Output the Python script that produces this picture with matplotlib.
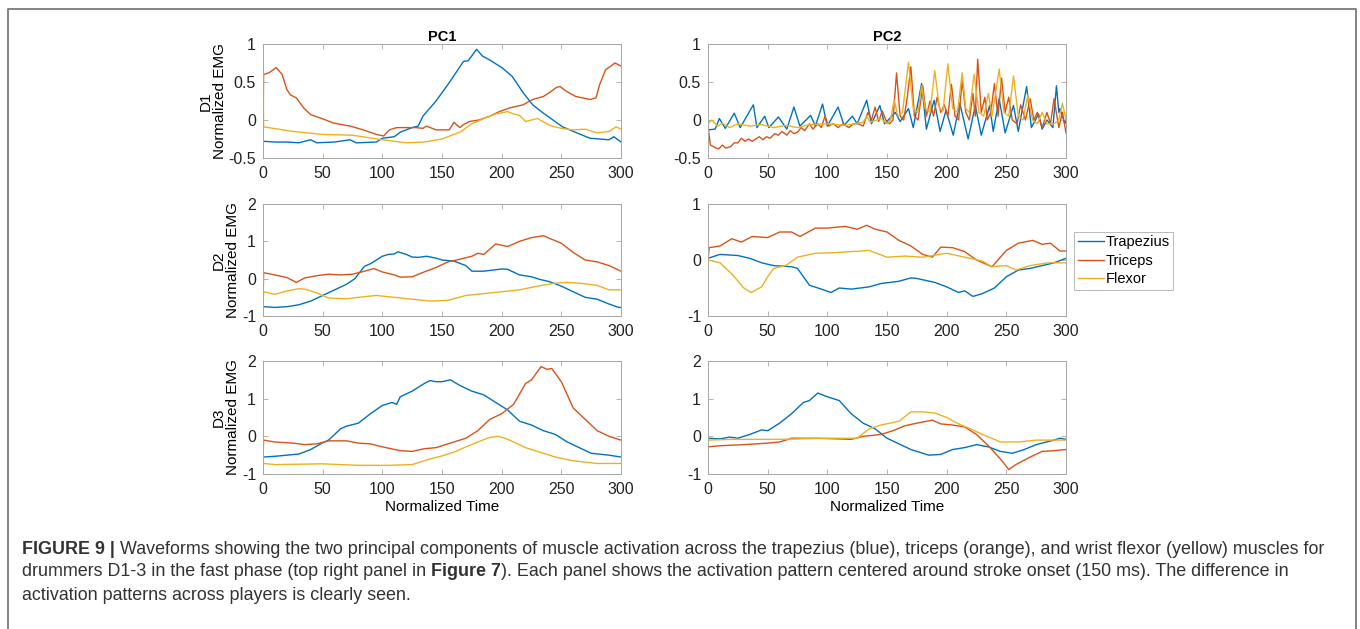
import matplotlib
matplotlib.use("Agg")
import matplotlib.pyplot as plt
from matplotlib.lines import Line2D
from matplotlib.transforms import IdentityTransform

plt.rcParams['font.family'] = ['Liberation Sans', 'DejaVu Sans']
plt.rcParams['axes.unicode_minus'] = False

W, H = 1360, 629
BLUE, ORANGE, YELLOW = '#0072BD', '#D95319', '#EDB120'
muscles = ['Trapezius', 'Triceps', 'Flexor']

# ---- D1 / PC1 ----
d1_pc1_trap_x = [0, 10, 20, 30, 40, 45, 60, 73, 78, 95, 100, 110, 115, 125, 130, 134, 145, 156, 168, 172,
                 179, 184, 190, 201, 209, 218, 226, 235, 243, 251, 260, 274, 290, 294, 300]
d1_pc1_trap_y = [-0.28, -0.29, -0.29, -0.3, -0.26, -0.3, -0.29, -0.26, -0.3, -0.29, -0.24, -0.22, -0.16, -0.1,
                 -0.08, 0.05, 0.25, 0.49, 0.77, 0.78, 0.93, 0.84, 0.79, 0.68, 0.57, 0.36, 0.2, 0.09, 0.0, -0.09,
                 -0.15, -0.24, -0.26, -0.22, -0.29]
d1_pc1_tri_x = [0, 0.5, 5, 11, 16, 20, 23, 28, 34, 40, 51, 59, 73, 84, 95, 101, 106, 112, 128, 134, 137, 145,
                156, 160, 162, 165, 168, 173, 181, 190, 198, 207, 218, 226, 235, 240, 246, 249, 254, 262, 274,
                279, 282, 287, 295, 300]
d1_pc1_tri_y = [-0.28, 0.6, 0.62, 0.69, 0.6, 0.4, 0.33, 0.29, 0.16, 0.07, 0.01, -0.04, -0.08, -0.13, -0.19,
                -0.21, -0.13, -0.1, -0.1, -0.11, -0.08, -0.13, -0.13, -0.03, -0.06, -0.1, -0.06, -0.02, 0.0,
                0.05, 0.11, 0.16, 0.2, 0.27, 0.31, 0.36, 0.43, 0.44, 0.38, 0.31, 0.27, 0.29, 0.46, 0.66, 0.75,
                0.71]
d1_pc1_flex_x = [0, 0.5, 25, 50, 75, 100, 120, 135, 150, 165, 175, 185, 195, 205, 210, 215, 220, 230, 240,
                 250, 260, 270, 280, 290, 296, 300]
d1_pc1_flex_y = [0.7, -0.09, -0.15, -0.19, -0.2, -0.26, -0.3, -0.29, -0.25, -0.16, -0.05, 0.02, 0.08, 0.11,
                 0.08, 0.06, -0.02, 0.02, -0.07, -0.11, -0.13, -0.12, -0.17, -0.15, -0.09, -0.12]

# ---- D1 / PC2 ----
d1_pc2_trap_x = [0, 6, 9.5, 14.5, 22, 27, 38, 41, 47.5, 51, 59, 66, 72, 77, 86, 90, 96, 100, 109, 114, 121,
                 125, 133, 137, 144, 148, 157, 161, 168, 172, 179, 183, 189.5, 194.5, 199.5, 205.5, 211, 218,
                 224, 229, 236, 239, 244, 249, 256, 260, 267, 271, 277, 280, 284, 289, 292, 294, 295, 299, 300]
d1_pc2_trap_y = [-0.13, -0.12, 0.02, -0.11, 0.09, -0.1, 0.2, -0.1, 0.05, -0.1, 0.04, -0.12, 0.17, -0.08, 0.06,
                 -0.08, 0.21, -0.08, 0.17, -0.07, 0.05, -0.05, 0.26, -0.05, 0.19, -0.05, 0.1, -0.02, 0.15, -0.1,
                 0.48, -0.12, 0.26, -0.15, 0.13, -0.2, 0.22, -0.25, 0.19, -0.2, 0.19, -0.15, 0.28, -0.17, 0.19,
                 -0.15, 0.44, -0.1, 0.08, -0.12, 0.0, -0.1, 0.45, 0.1, 0.15, -0.05, 0.0]
d1_pc2_tri_x = [0, 2, 7, 9, 12, 15, 19, 22, 25, 28, 31, 34, 37, 40, 43, 46, 49, 52, 56, 59, 62, 66, 69, 72, 75,
                78, 81, 85, 88, 92, 95, 98, 101, 105, 109, 113, 118, 122, 126, 130, 134, 137, 140, 143, 146, 149,
                152, 155, 158, 161, 164, 167, 170, 173, 176, 180, 183, 186, 189, 192, 195, 198, 201, 204, 207,
                210, 213, 216, 219, 222, 224, 226, 229, 232, 234, 237, 240, 243, 246, 249, 252, 255, 259, 262,
                266, 270, 273, 276, 280, 284, 287, 290, 294, 297, 300]
d1_pc2_tri_y = [-0.08, -0.33, -0.37, -0.38, -0.33, -0.37, -0.35, -0.3, -0.3, -0.24, -0.28, -0.25, -0.28,
                -0.25, -0.22, -0.26, -0.22, -0.24, -0.18, -0.2, -0.15, -0.2, -0.14, -0.18, -0.16, -0.1, -0.14,
                -0.05, -0.12, -0.05, -0.1, 0.05, -0.08, -0.05, -0.1, -0.05, -0.1, -0.05, -0.05, -0.08, 0.1, 0.0,
                0.17, -0.02, 0.12, 0.0, -0.05, 0.0, 0.62, 0.05, 0.0, 0.3, 0.7, 0.05, 0.0, 0.45, 0.05, 0.25, 0.05,
                0.3, 0.1, 0.2, 0.05, 0.47, 0.05, 0.0, 0.52, 0.1, 0.0, 0.35, 0.05, 0.8, 0.1, 0.3, 0.0, 0.1, 0.48,
                0.05, 0.55, 0.1, 0.3, 0.0, -0.05, 0.2, 0.0, 0.28, 0.0, 0.1, -0.1, 0.1, -0.05, 0.28, -0.1, 0.1,
                -0.17]
d1_pc2_flex_x = [0, 3, 8, 12, 18, 25, 35, 45, 55, 65, 75, 85, 100, 115, 130, 133, 136, 145, 150, 153, 156, 159,
                 163, 168, 172, 176, 179, 182, 186, 190, 194, 197, 201, 205, 209, 213, 216, 219, 223, 227, 231,
                 235, 238, 244, 248, 252, 256, 260, 264, 268, 272, 276, 280, 284, 290, 294, 297, 300]
d1_pc2_flex_y = [-0.05, 0.0, -0.08, -0.04, -0.1, -0.05, -0.08, -0.06, -0.1, -0.07, -0.1, -0.06, -0.05, -0.07,
                 -0.03, 0.05, -0.03, 0.02, -0.05, 0.0, 0.27, 0.05, 0.1, 0.76, 0.15, 0.1, 0.45, 0.15, 0.1, 0.65,
                 0.15, 0.12, 0.74, 0.15, 0.1, 0.62, 0.15, 0.1, 0.6, 0.1, 0.05, 0.35, 0.05, 0.67, 0.1, 0.05, 0.58,
                 0.05, 0.0, 0.33, 0.0, -0.05, 0.1, -0.05, -0.05, 0.0, 0.22, 0.0]

# ---- D2 / PC1 ----
d2_pc1_trap_x = [0, 10, 20, 30, 40, 50, 60, 70, 77, 85, 90, 100, 105, 110, 113, 120, 125, 130, 137, 145, 150,
                 160, 170, 175, 185, 195, 200, 205, 215, 225, 232, 240, 250, 260, 270, 280, 290, 298, 300]
d2_pc1_trap_y = [-0.75, -0.77, -0.75, -0.7, -0.6, -0.45, -0.3, -0.15, 0.0, 0.33, 0.4, 0.6, 0.65, 0.66, 0.72,
                 0.65, 0.58, 0.57, 0.6, 0.55, 0.5, 0.47, 0.35, 0.2, 0.2, 0.24, 0.26, 0.25, 0.1, 0.05, -0.02,
                 -0.08, -0.2, -0.35, -0.5, -0.55, -0.68, -0.77, -0.77]
d2_pc1_tri_x = [0, 0.5, 10, 20, 28, 35, 45, 55, 65, 75, 85, 93, 100, 110, 115, 125, 135, 145, 155, 165, 175,
                180, 185, 195, 205, 215, 225, 235, 240, 250, 260, 270, 280, 290, 300]
d2_pc1_tri_y = [-0.75, 0.16, 0.1, 0.03, -0.1, 0.02, 0.08, 0.12, 0.1, 0.12, 0.2, 0.27, 0.18, 0.1, 0.04, 0.05,
                0.18, 0.3, 0.45, 0.52, 0.6, 0.68, 0.65, 0.93, 0.86, 1.0, 1.1, 1.15, 1.08, 0.95, 0.7, 0.5, 0.45,
                0.35, 0.2]
d2_pc1_flex_x = [0, 0.5, 10, 20, 30, 35, 45, 55, 70, 80, 95, 110, 125, 140, 155, 170, 185, 200, 215, 230, 245,
                 255, 265, 280, 290, 300]
d2_pc1_flex_y = [-0.75, -0.35, -0.42, -0.33, -0.27, -0.28, -0.38, -0.52, -0.54, -0.5, -0.45, -0.5, -0.55,
                 -0.6, -0.58, -0.45, -0.4, -0.35, -0.3, -0.2, -0.12, -0.1, -0.12, -0.18, -0.3, -0.3]

# ---- D2 / PC2 ----
d2_pc2_trap_x = [0, 10, 25, 35, 45, 55, 70, 75, 85, 95, 103, 110, 120, 135, 145, 160, 170, 175, 190, 200, 210,
                 215, 222, 230, 240, 250, 260, 270, 280, 290, 300]
d2_pc2_trap_y = [0.03, 0.1, 0.08, 0.03, -0.05, -0.1, -0.12, -0.15, -0.45, -0.52, -0.58, -0.5, -0.52, -0.48,
                 -0.42, -0.38, -0.32, -0.33, -0.4, -0.48, -0.58, -0.55, -0.65, -0.6, -0.5, -0.3, -0.18, -0.15,
                 -0.1, -0.05, 0.03]
d2_pc2_tri_x = [0, 1, 10, 20, 28, 37, 50, 60, 70, 77, 90, 100, 115, 125, 133, 140, 150, 160, 170, 180, 188,
                195, 205, 215, 225, 238, 250, 260, 272, 280, 287, 295, 300]
d2_pc2_tri_y = [0.0, 0.22, 0.25, 0.38, 0.32, 0.42, 0.4, 0.5, 0.5, 0.42, 0.57, 0.57, 0.6, 0.55, 0.62, 0.55,
                0.5, 0.35, 0.25, 0.1, 0.05, 0.23, 0.22, 0.15, 0.0, -0.12, 0.17, 0.3, 0.35, 0.28, 0.3, 0.16, 0.16]
d2_pc2_flex_x = [0, 10, 20, 30, 36, 45, 50, 55, 65, 75, 90, 105, 120, 135, 150, 165, 180, 200, 215, 230, 238,
                 250, 258, 270, 285, 300]
d2_pc2_flex_y = [0.0, -0.05, -0.25, -0.5, -0.58, -0.48, -0.3, -0.15, -0.1, 0.05, 0.12, 0.13, 0.15, 0.17, 0.05,
                 0.07, 0.05, 0.12, 0.05, -0.02, -0.12, -0.1, -0.18, -0.1, -0.05, -0.05]

# ---- D3 / PC1 ----
d3_pc1_trap_x = [0, 10, 20, 30, 40, 50, 55, 65, 70, 80, 90, 100, 108, 112, 115, 125, 135, 140, 145, 150, 157,
                 165, 175, 185, 195, 205, 215, 225, 235, 245, 255, 265, 275, 290, 300]
d3_pc1_trap_y = [-0.55, -0.53, -0.5, -0.47, -0.35, -0.17, -0.1, 0.2, 0.27, 0.35, 0.6, 0.82, 0.9, 0.85, 1.05,
                 1.2, 1.4, 1.48, 1.45, 1.45, 1.5, 1.35, 1.2, 1.1, 0.9, 0.7, 0.4, 0.3, 0.15, 0.05, -0.15, -0.3,
                 -0.45, -0.5, -0.55]
d3_pc1_tri_x = [0, 0.5, 10, 25, 35, 45, 55, 70, 80, 90, 100, 115, 125, 135, 145, 155, 170, 180, 190, 200, 210,
                220, 225, 233, 238, 242, 250, 260, 270, 280, 290, 300]
d3_pc1_tri_y = [-0.55, -0.1, -0.15, -0.18, -0.22, -0.2, -0.12, -0.12, -0.18, -0.2, -0.28, -0.38, -0.4, -0.33,
                -0.3, -0.2, -0.05, 0.15, 0.45, 0.6, 0.85, 1.4, 1.5, 1.85, 1.78, 1.8, 1.45, 0.75, 0.45, 0.15, 0.0,
                -0.1]
d3_pc1_flex_x = [0, 0.5, 10, 50, 80, 105, 125, 140, 150, 160, 170, 180, 190, 197, 203, 210, 220, 230, 245, 260,
                 280, 300]
d3_pc1_flex_y = [-0.55, -0.72, -0.75, -0.73, -0.77, -0.77, -0.75, -0.6, -0.52, -0.42, -0.28, -0.15, -0.03, 0.0,
                 -0.05, -0.15, -0.3, -0.4, -0.55, -0.65, -0.72, -0.72]

# ---- D3 / PC2 ----
d3_pc2_trap_x = [0, 10, 18, 25, 35, 45, 50, 60, 70, 80, 85, 92, 100, 110, 120, 130, 140, 150, 160, 170, 180,
                 185, 195, 205, 215, 225, 235, 245, 255, 265, 275, 290, 295, 300]
d3_pc2_trap_y = [-0.05, -0.07, -0.02, -0.05, 0.05, 0.17, 0.15, 0.35, 0.6, 0.9, 0.95, 1.15, 1.05, 0.95, 0.6,
                 0.35, 0.2, -0.05, -0.2, -0.35, -0.45, -0.5, -0.48, -0.35, -0.3, -0.22, -0.28, -0.4, -0.45,
                 -0.35, -0.22, -0.1, -0.05, -0.08]
d3_pc2_tri_x = [0, 10, 30, 50, 60, 70, 90, 120, 130, 145, 155, 165, 175, 180, 188, 195, 205, 215, 225, 235,
                245, 252, 258, 270, 280, 290, 300]
d3_pc2_tri_y = [-0.28, -0.25, -0.22, -0.18, -0.15, -0.05, -0.05, -0.08, 0.0, 0.05, 0.15, 0.28, 0.35, 0.38,
                0.43, 0.33, 0.3, 0.25, 0.05, -0.25, -0.6, -0.88, -0.75, -0.55, -0.4, -0.38, -0.35]
d3_pc2_flex_x = [0, 0.5, 20, 60, 100, 125, 135, 145, 160, 170, 180, 190, 200, 210, 220, 230, 245, 260, 275,
                 300]
d3_pc2_flex_y = [-0.3, -0.1, -0.08, -0.08, -0.05, -0.05, 0.2, 0.3, 0.4, 0.65, 0.65, 0.62, 0.5, 0.33, 0.2,
                 0.05, -0.15, -0.15, -0.1, -0.1]

panels = [
    [(d1_pc1_trap_x, d1_pc1_trap_y), (d1_pc1_tri_x, d1_pc1_tri_y), (d1_pc1_flex_x, d1_pc1_flex_y)],
    [(d1_pc2_trap_x, d1_pc2_trap_y), (d1_pc2_tri_x, d1_pc2_tri_y), (d1_pc2_flex_x, d1_pc2_flex_y)],
    [(d2_pc1_trap_x, d2_pc1_trap_y), (d2_pc1_tri_x, d2_pc1_tri_y), (d2_pc1_flex_x, d2_pc1_flex_y)],
    [(d2_pc2_trap_x, d2_pc2_trap_y), (d2_pc2_tri_x, d2_pc2_tri_y), (d2_pc2_flex_x, d2_pc2_flex_y)],
    [(d3_pc1_trap_x, d3_pc1_trap_y), (d3_pc1_tri_x, d3_pc1_tri_y), (d3_pc1_flex_x, d3_pc1_flex_y)],
    [(d3_pc2_trap_x, d3_pc2_trap_y), (d3_pc2_tri_x, d3_pc2_tri_y), (d3_pc2_flex_x, d3_pc2_flex_y)],
]
ylims = [(-0.5, 1), (-0.5, 1), (-1, 2), (-1, 1), (-1, 2), (-1, 2)]
yticks = [[-0.5, 0, 0.5, 1], [-0.5, 0, 0.5, 1], [-1, 0, 1, 2], [-1, 0, 1], [-1, 0, 1, 2], [-1, 0, 1, 2]]
ytick_labels = [['-0.5', '0', '0.5', '1'], ['-0.5', '0', '0.5', '1'], ['-1', '0', '1', '2'],
                ['-1', '0', '1'], ['-1', '0', '1', '2'], ['-1', '0', '1', '2']]
row_names = ['D1', 'D2', 'D3']
col_titles = ['PC1', 'PC2']

# axes boxes in pixels: left, top, right, bottom
col_px = [(263, 621), (708, 1066)]
row_px = [(44, 158), (204, 316), (361, 474)]

fig = plt.figure(figsize=(W / 100, H / 100), dpi=100)
axes = []
for r in range(3):
    for c in range(2):
        x0, x1 = col_px[c]
        y0, y1 = row_px[r]
        ax = fig.add_axes([x0 / W, 1 - y1 / H, (x1 - x0) / W, (y1 - y0) / H])
        axes.append(ax)

frame_col = '#a8a8a8'
for i, ax in enumerate(axes):
    for (xs, ys), col in zip(panels[i], [BLUE, ORANGE, YELLOW]):
        ax.plot(xs, ys, color=col, lw=1.0)
    ax.set_xlim(0, 300)
    ax.set_ylim(*ylims[i])
    ax.set_xticks(range(0, 301, 50))
    ax.set_yticks(yticks[i])
    ax.set_yticklabels(ytick_labels[i])
    ax.tick_params(direction='in', length=3.5, width=0.6, color=frame_col, top=True, right=True,
                   labelsize=11.5, labelcolor='#222222')
    ax.tick_params(axis='x', pad=6)
    ax.tick_params(axis='y', pad=5)
    for s in ax.spines.values():
        s.set_color(frame_col)
        s.set_linewidth(0.7)
    r, c = divmod(i, 2)
    if r == 0:
        ax.set_title(col_titles[c], fontsize=10.5, fontweight='bold', pad=2)
    if c == 0:
        ax.set_ylabel(f'{row_names[r]}\nNormalized EMG', fontsize=11, labelpad=1, linespacing=1.05)
    if r == 2:
        ax.set_xlabel('Normalized Time', fontsize=11, labelpad=2)

handles = [Line2D([], [], color=col, lw=1.0) for col in [BLUE, ORANGE, YELLOW]]
leg = axes[3].legend(handles, muscles, loc='upper left', bbox_to_anchor=(1.0 + 8 / 358, 1 - 28 / 113),
                     borderaxespad=0, frameon=True, fancybox=False, fontsize=10.5, handlelength=1.8,
                     handletextpad=0.1, labelspacing=0.3, borderpad=0.25)
leg.get_frame().set_edgecolor('#a8a8a8')
leg.get_frame().set_linewidth(0.7)

# outer border around figure and caption
border = '#7a7a7a'
fig.add_artist(Line2D([8, 8, 1356, 1356], [-5, H - 9, H - 9, -5], color=border, lw=1.3,
                      transform=IdentityTransform()))

# caption with bold runs
renderer = fig.canvas.get_renderer()
cap_size = 12.9
cap_color = '#333333'


def draw_runs(x, y, runs):
    for s, w in runs:
        t = fig.text(x, y, s, fontsize=cap_size, fontweight=w, color=cap_color, va='center',
                     ha='left', transform=IdentityTransform())
        x += t.get_window_extent(renderer).width


draw_runs(22, H - 549, [('FIGURE 9 | ', 'bold'),
                        ('Waveforms showing the two principal components of muscle activation across the '
                         'trapezius (blue), triceps (orange), and wrist flexor (yellow) muscles for', 'normal')])
draw_runs(22, H - 572, [('drummers D1-3 in the fast phase (top right panel in ', 'normal'), ('Figure 7', 'bold'),
                        ('). Each panel shows the activation pattern centered around stroke onset (150 ms). '
                         'The difference in', 'normal')])
draw_runs(22, H - 595, [('activation patterns across players is clearly seen.', 'normal')])

fig.savefig('out.png', dpi=100)
